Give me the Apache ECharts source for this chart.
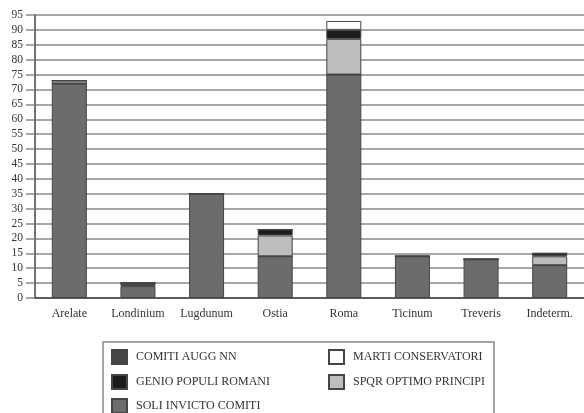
<!DOCTYPE html>
<html><head><meta charset="utf-8">
<script src="https://cdn.jsdelivr.net/npm/echarts@6/dist/echarts.min.js"></script>
<style>html,body{margin:0;padding:0;background:#fff}#c{width:584px;height:413px}</style>
</head><body><div id="c"></div>
<script>
const categories = ['Arelate','Londinium','Lugdunum','Ostia','Roma','Ticinum','Treveris','Indeterm.'];
const soliInvictoComiti = [72, 4, 35, 14, 75, 14, 13, 11];
const comitiAuggNN      = [0, 1, 0, 0, 0, 0, 0, 0];
const spqrOptimoPrincipi= [1, 0, 0, 7, 12, 0, 0, 3];
const genioPopuliRomani = [0, 0, 0, 2, 3, 0, 0, 1];
const martiConservatori = [0, 0, 0, 0, 3, 0, 0, 0];
const yTicks = {min: 0, max: 95, interval: 5};

const font = 'Liberation Serif';
function s(name, data, color) {
  return {name, type:'bar', stack:'t', data, barWidth:35,
    itemStyle:{color, borderColor:'#454545', borderWidth:1},
    emphasis:{disabled:true}};
}
function lg(name, left, top) {
  return {left, top, itemWidth:15, itemHeight:14, icon:'rect', data:[name],
    textStyle:{fontFamily:font, fontSize:12, color:'#333', padding:[0,0,0,4]},
    selectedMode:false, padding:0};
}
const chart = echarts.init(document.getElementById('c'));
chart.setOption({
  animation:false,
  grid:{left:35, top:15, width:553, bottom:115, containLabel:false},
  xAxis:{type:'category', data:categories,
    axisLine:{lineStyle:{color:'#444', width:1.5}},
    axisTick:{alignWithLabel:true, length:6, lineStyle:{color:'#444', width:1.5}},
    axisLabel:{interval:0, hideOverlap:false, fontFamily:font, fontSize:12, color:'#333', margin:10}},
  yAxis:{type:'value', min:yTicks.min, max:yTicks.max, interval:yTicks.interval,
    axisLine:{show:true, lineStyle:{color:'#444', width:1.5}},
    axisTick:{show:true, length:9, lineStyle:{color:'#888', width:1.5}},
    axisLabel:{fontFamily:font, fontSize:11.5, color:'#333', margin:12},
    splitLine:{lineStyle:{color:'#8a8a8a', width:1.5}}},
  legend:[
    lg('COMITI AUGG NN', 111, 349),
    lg('GENIO POPULI ROMANI', 111, 374),
    lg('SOLI INVICTO COMITI', 111, 398),
    lg('MARTI CONSERVATORI', 328, 349),
    lg('SPQR OPTIMO PRINCIPI', 328, 374)
  ],
  graphic:[{type:'rect', shape:{x:103, y:342, width:391, height:80},
    style:{fill:'none', stroke:'#888', lineWidth:1.5}, silent:true}],
  series:[
    s('SOLI INVICTO COMITI', soliInvictoComiti, '#6c6c6c'),
    s('COMITI AUGG NN', comitiAuggNN, '#464646'),
    s('SPQR OPTIMO PRINCIPI', spqrOptimoPrincipi, '#bdbdbd'),
    s('GENIO POPULI ROMANI', genioPopuliRomani, '#1c1c1c'),
    s('MARTI CONSERVATORI', martiConservatori, '#ffffff')
  ]
});
</script></body></html>
